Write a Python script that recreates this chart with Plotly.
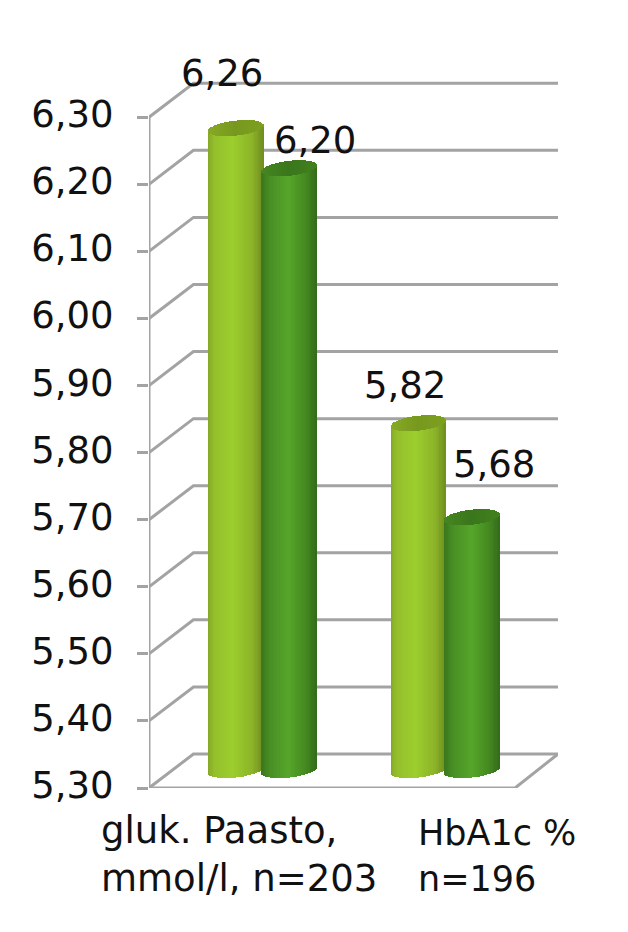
import math
import plotly.graph_objects as go

categories = ["gluk. Paasto,<br>mmol/l, n=203", "HbA1c %<br>n=196"]
series_a = [6.26, 5.82]
series_b = [6.20, 5.68]
tick_values = [5.30, 5.40, 5.50, 5.60, 5.70, 5.80, 5.90, 6.00, 6.10, 6.20, 6.30]

FONT = "DejaVu Sans"
FS = 37
GRAY = "#a3a3a3"
PX_Y = 67.1 / 0.1          # pixels per value unit
PX_X = 183.0               # pixels per category step
DEPTH_Y = 34 / PX_Y
MID_Y = 16 / PX_Y
FOOT_Y = 18 / PX_Y
X0 = -0.62
X1 = 1.617
Y_TOP = 6.36
X_BACK = X0 + 44.5 / PX_X
X_FRONT_R = X1 - 43 / PX_X
BAR_W = 55 / PX_X
N = 44


def mix(c1, c2, t):
    return tuple(c1[i] + (c2[i] - c1[i]) * t for i in range(3))


def ramp(stops, t):
    for (t0, c0), (t1, c1) in zip(stops, stops[1:]):
        if t <= t1:
            return mix(c0, c1, (t - t0) / (t1 - t0))
    return stops[-1][1]


def css(c):
    return "rgb(%d,%d,%d)" % tuple(round(v) for v in c)


light_body = [(0, (132, 168, 40)), (.12, (148, 192, 44)), (.45, (156, 206, 46)), (.8, (140, 180, 40)), (1, (112, 142, 32))]
light_cap = [(0, (134, 170, 36)), (.5, (118, 152, 30)), (1, (126, 160, 32))]
dark_body = [(0, (58, 118, 30)), (.15, (72, 142, 36)), (.5, (86, 166, 42)), (.82, (68, 136, 32)), (1, (52, 108, 26))]
dark_cap = [(0, (70, 134, 32)), (.5, (58, 118, 28)), (1, (66, 128, 30))]

fig = go.Figure()

# Wall and floor lines, all derived from the tick values
gx, gy = [], []
for t in tick_values:
    gx += [X0, X_BACK, X1, None]
    gy += [t, t + DEPTH_Y, t + DEPTH_Y, None]
floor = tick_values[0]
top = tick_values[-1]
gx += [X0, X_FRONT_R, X1, None, X0, X0]
gy += [floor, floor, floor + DEPTH_Y, None, floor, top]
fig.add_trace(go.Scatter(x=gx, y=gy, mode="lines", cliponaxis=False, hoverinfo="skip", showlegend=False,
                         line=dict(color=GRAY, width=3)))

cat_x = list(range(len(categories)))
B = 7.5 / PX_Y     # cap half-height
TILT = 3 / PX_Y    # cap tilt at edge

for vals, shift, body, cap in [(series_a, -0.145, light_body, light_cap), (series_b, 0.147, dark_body, dark_cap)]:
    for i in range(N):
        u = (i + .5) / N * 2 - 1
        t = (i + .5) / N
        arc = B * math.sqrt(max(0, 1 - u * u))
        off = shift - BAR_W / 2 + i * BAR_W / N
        w = BAR_W / N * 1.25 if i < N - 1 else BAR_W / N
        low = floor + FOOT_Y - arc + TILT * u
        fig.add_trace(go.Bar(x=cat_x, y=[v + MID_Y + TILT * u - low for v in vals], base=[low] * len(vals),
                             width=w, offset=off, marker=dict(color=css(ramp(body, t)), line=dict(width=0)),
                             showlegend=False, hoverinfo="skip", cliponaxis=False, xaxis="x2", yaxis="y2"))
    for i in range(N):
        u = (i + .5) / N * 2 - 1
        t = (i + .5) / N
        arc = B * math.sqrt(max(0, 1 - u * u))
        off = shift - BAR_W / 2 + i * BAR_W / N
        w = BAR_W / N * 1.25 if i < N - 1 else BAR_W / N
        fig.add_trace(go.Bar(x=cat_x, y=[2 * arc] * len(vals), base=[v + MID_Y + TILT * u - arc for v in vals],
                             width=w, offset=off, marker=dict(color=css(ramp(cap, t)), line=dict(width=0)),
                             showlegend=False, hoverinfo="skip", cliponaxis=False, xaxis="x2", yaxis="y2"))

annotations = []
labels = [
    (0, series_a[0], -40, 71), (0, series_b[0], 53, 44),
    (1, series_a[1], -40, 54), (1, series_b[1], 49, 69),
]
for cat, val, dx, dy in labels:
    annotations.append(dict(x=cat, y=val, xref="x", yref="y", text=f"{val:.2f}".replace(".", ","), showarrow=False,
                            xshift=dx, yshift=dy, font=dict(family=FONT, size=FS, color="#111111")))

for cat, text, dx, fs, dy in zip(cat_x, categories, (-163, -29), (FS, 35), (-19, -23)):
    annotations.append(dict(x=cat, y=0, xref="x", yref="paper", text=text, showarrow=False, align="left",
                            xanchor="left", yanchor="top", xshift=dx, yshift=dy,
                            font=dict(family=FONT, size=fs, color="#111111")))

fig.update_layout(
    width=620, height=924, autosize=False,
    margin=dict(l=140.5, r=70, t=69, b=144, pad=0),
    paper_bgcolor="white", plot_bgcolor="white",
    barmode="overlay", bargap=0, separators=", ",
    showlegend=False, annotations=annotations,
    xaxis=dict(range=[X0, X1], visible=False, fixedrange=True),
    xaxis2=dict(range=[X0, X1], visible=False, fixedrange=True, overlaying="x"),
    yaxis=dict(range=[5.30, Y_TOP], tickmode="array", tickvals=tick_values,
               ticktext=[f"{t:.2f}".replace(".", ",") for t in tick_values],
               showgrid=False, zeroline=False, showline=False,
               ticks="outside", ticklen=11, tickwidth=3, tickcolor=GRAY, ticklabelstandoff=16, ticklabelshift=-3,
               tickfont=dict(family=FONT, size=FS, color="#111111"), fixedrange=True),
    yaxis2=dict(range=[5.30, Y_TOP], visible=False, fixedrange=True, overlaying="y"),
)
fig.write_html("out.html", config=dict(displayModeBar=False))
